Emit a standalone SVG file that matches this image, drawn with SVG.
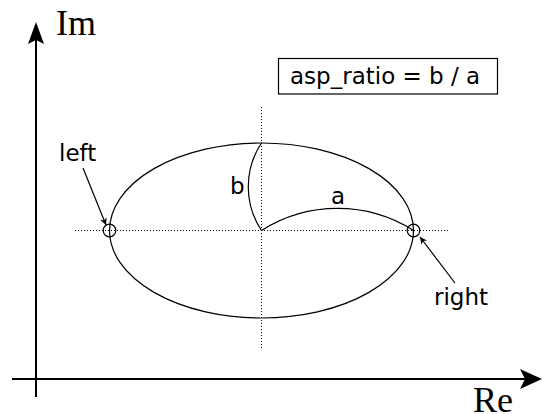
<svg xmlns="http://www.w3.org/2000/svg" width="542" height="414" viewBox="0 0 542 414">
<style>
.axis{stroke:#000;stroke-width:2;fill:none}
.thin{stroke:#000;stroke-width:1.2;fill:none}
.dot{stroke:#000;stroke-width:1;stroke-dasharray:1,2;fill:none}
.serif{font-family:"Liberation Serif","Times New Roman",serif;fill:#000;font-size:36px}
.sans{font-family:"DejaVu Sans","Liberation Sans",sans-serif;fill:#000;font-size:23px}
</style>
<defs>
<marker id="small" viewBox="0 0 10 10" refX="10" refY="5" markerWidth="11" markerHeight="7" markerUnits="userSpaceOnUse" orient="auto"><path d="M0,0 L10,5 L0,10 L3,5 Z" fill="#000"/></marker>
</defs>
<g id="axes">
<line class="axis" x1="36" y1="397" x2="36" y2="40"/>
<path d="M36,22 L44,44 L36,40 L28,44 Z" fill="#000"/>
<line class="axis" x1="12" y1="379" x2="526" y2="379"/>
<path d="M542,379 L520,369 L525,379 L520,389 Z" fill="#000"/>
<text class="serif" x="56" y="35">Im</text>
<text class="serif" x="473" y="412">Re</text>
</g>
<g id="guides">
<line class="dot" x1="75" y1="230.5" x2="450" y2="230.5"/>
<line class="dot" x1="261.5" y1="107" x2="261.5" y2="350"/>
</g>
<g id="ellipse">
<ellipse class="thin" cx="261.5" cy="230.5" rx="152" ry="87.5"/>
</g>
<g id="arc-b">
<path class="thin" d="M261.5,230.5 A79,79 0 0 1 261.5,143"/>
<text class="sans" x="230" y="194">b</text>
</g>
<g id="arc-a">
<path class="thin" d="M261.5,230.5 A142,142 0 0 1 413.5,230.5"/>
<text class="sans" x="331" y="204">a</text>
</g>
<g id="left">
<circle class="thin" cx="109.5" cy="230.5" r="6.3"/>
<text class="sans" x="59" y="161">left</text>
</g>
<g id="right">
<circle class="thin" cx="413.5" cy="230.5" r="6.3"/>
<text class="sans" x="434" y="305">right</text>
</g>
<g id="connectors">
<line class="thin" x1="83" y1="168" x2="106" y2="225" marker-end="url(#small)"/>
<line class="thin" x1="455" y1="283" x2="420" y2="237" marker-end="url(#small)"/>
</g>
<g id="formula">
<rect class="thin" x="278.5" y="58.5" width="219" height="35.5" fill="#fff"/>
<text class="sans" x="290" y="84">asp_ratio = b / a</text>
</g>
</svg>
